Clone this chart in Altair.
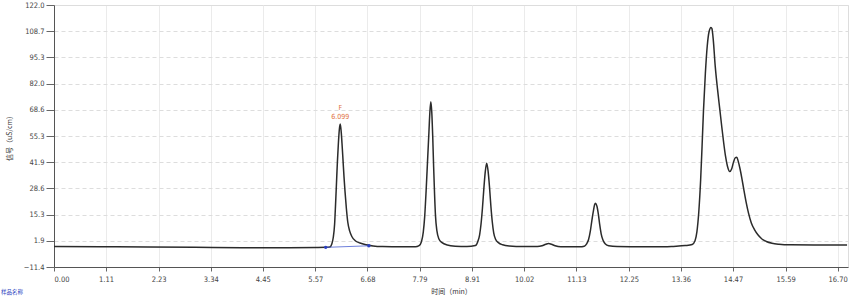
import altair as alt
import pandas as pd

# trace: time (min), signal (uS/cm)
times = [0.00, 1.00, 2.00, 3.00, 4.00, 5.00, 5.60, 5.79,
         5.88, 5.92, 5.95, 5.98, 6.00, 6.02, 6.04, 6.06, 6.08, 6.10, 6.12, 6.14, 6.16, 6.18,
         6.20, 6.23, 6.26, 6.30, 6.35, 6.42, 6.52, 6.65, 6.80, 7.00, 7.40,
         7.70, 7.78, 7.83, 7.87, 7.90, 7.93, 7.96, 7.99, 8.01, 8.03, 8.05, 8.07, 8.09, 8.11,
         8.13, 8.16, 8.20, 8.27, 8.38, 8.55, 8.80,
         8.98, 9.03, 9.07, 9.10, 9.13, 9.16, 9.19, 9.22, 9.25, 9.28, 9.31, 9.34, 9.37, 9.41,
         9.47, 9.56, 9.70, 10.00,
         10.30, 10.40, 10.48, 10.54, 10.60, 10.68, 10.80,
         11.20, 11.30, 11.35, 11.39, 11.43, 11.46, 11.49, 11.52, 11.54, 11.57, 11.60, 11.63,
         11.66, 11.70, 11.75, 11.82, 12.00, 12.60, 13.00,
         13.20, 13.45, 13.60, 13.66, 13.70, 13.74, 13.78, 13.81, 13.84, 13.88, 13.92, 13.96,
         14.00, 14.02, 14.05, 14.09, 14.14, 14.19, 14.23, 14.27, 14.31, 14.35, 14.40, 14.44,
         14.48, 14.52, 14.55, 14.58, 14.62, 14.66, 14.70, 14.75, 14.80, 14.86, 14.93, 15.00,
         15.08, 15.18, 15.30, 15.45, 15.70, 16.20, 16.90]
signal = [-1.0, -1.1, -1.2, -1.4, -1.6, -1.6, -1.5, -1.4,
          -1.2, 0.3, 3.5, 10.5, 20.5, 31.5, 42.5, 51.5, 58.5, 61.4, 57.5, 50.5, 42.5, 34.5,
          27.5, 18.5, 11.5, 7.0, 4.0, 2.0, 0.8, -0.1, -0.7, -1.0, -1.1,
          -1.1, -0.5, 1.5, 6.5, 14.5, 27.5, 42.5, 57.5, 67.5, 72.8, 67.5, 55.5, 39.5, 25.5,
          14.5, 7.0, 3.0, 1.0, -0.2, -0.8, -1.0,
          -0.5, 1.5, 5.0, 10.5, 18.5, 28.5, 37.0, 41.4, 37.5, 29.5, 19.5, 11.5, 6.0, 2.7,
          1.0, -0.1, -0.7, -1.0,
          -1.0, -0.6, 0.2, 0.6, 0.2, -0.6, -1.1,
          -1.1, -0.8, 0.4, 2.5, 7.0, 12.0, 16.5, 20.3, 21.0, 19.5, 15.5, 10.0,
          5.5, 2.2, 0.3, -0.6, -1.0, -1.1, -1.1,
          -0.9, -0.5, 0.1, 2.0, 6.5, 16.5, 33.0, 50.0, 68.0, 87.0, 101.0, 108.5,
          110.6, 110.0, 104.0, 91.0, 79.0, 68.5, 60.0, 52.0, 45.0, 40.0, 37.2, 38.5,
          42.0, 44.3, 44.5, 42.5, 38.5, 33.5, 28.0, 21.5, 16.0, 11.0, 7.5, 5.0,
          3.0, 1.6, 0.7, 0.2, -0.1, -0.2, -0.2]

# integration baseline markers for peak F
base_t = [5.79, 6.71]
base_v = [-1.4, -0.6]

peak_t = [6.099]
peak_v = [61.4]
peak_name = ["F"]
peak_rt = ["6.099"]

x_ticks = [0.00, 1.11, 2.23, 3.34, 4.45, 5.57, 6.68, 7.79, 8.91, 10.02, 11.13,
           12.25, 13.36, 14.47, 15.59, 16.70]
y_ticks = [122.0, 108.7, 95.3, 82.0, 68.6, 55.3, 41.9, 28.6, 15.3, 1.9, -11.4]

trace = pd.DataFrame({"t": times, "v": signal})
base = pd.DataFrame({"t": base_t, "v": base_v})
peaks = pd.DataFrame({"t": peak_t, "v": peak_v, "name": peak_name, "rt": peak_rt})

FONT = "'Liberation Sans Narrow', 'DejaVu Sans Condensed', sans-serif"
CJK = "Noto Sans CJK SC"

xs = alt.Scale(domain=[0, 16.92], nice=False, zero=False)
ys = alt.Scale(domain=[-11.4, 122.0], nice=False, zero=False)

x_axis = alt.Axis(values=x_ticks, tickCount=len(x_ticks) + 2, format=".2f", title="时间（min）",
                  labelOverlap=False,
                  grid=True, gridColor="#ebebeb", gridWidth=1,
                  tickSize=4, tickColor="#666", domainColor="#555",
                  labelFont=FONT, labelFontSize=7.5, labelColor="#444", labelPadding=4,
                  titleFont=CJK, titleFontSize=7, titleFontWeight="normal",
                  titleColor="#333", titlePadding=5)
y_axis = alt.Axis(values=y_ticks, tickCount=len(y_ticks) + 2, format=".1f", title="信号（uS/cm）",
                  labelOverlap=False,
                  grid=True, gridColor="#dddddd", gridDash=[4, 3], gridWidth=1,
                  tickSize=8, tickColor="#666", domainColor="#555",
                  labelFont=FONT, labelFontSize=7.5, labelColor="#444", labelPadding=2,
                  titleFont=CJK, titleFontSize=7, titleFontWeight="normal",
                  titleColor="#333", titleX=-42, titleY=131)

line = alt.Chart(trace).mark_line(color="#2b2b2b", strokeWidth=1.5, interpolate="monotone").encode(
    x=alt.X("t:Q", scale=xs, axis=x_axis),
    y=alt.Y("v:Q", scale=ys, axis=y_axis),
)

bline = alt.Chart(base).mark_line(color="#4a5fd0", strokeWidth=0.8).encode(
    x=alt.X("t:Q", scale=xs), y=alt.Y("v:Q", scale=ys))
bpts = alt.Chart(base).mark_point(filled=True, color="#2a3fc0", size=12, opacity=1).encode(
    x=alt.X("t:Q", scale=xs), y=alt.Y("v:Q", scale=ys))

lbl1 = alt.Chart(peaks).mark_text(color="#e0703c", fontSize=7, font=FONT, dy=-16).encode(
    x=alt.X("t:Q", scale=xs), y=alt.Y("v:Q", scale=ys), text="name:N")
lbl2 = alt.Chart(peaks).mark_text(color="#e0703c", fontSize=7, font=FONT, dy=-7).encode(
    x=alt.X("t:Q", scale=xs), y=alt.Y("v:Q", scale=ys), text="rt:N")

corner = alt.Chart(pd.DataFrame({"s": ["样品名称"]})).mark_text(
    color="#2a3fc0", fontSize=5.5, font=CJK, align="left", baseline="middle"
).encode(x=alt.value(-53), y=alt.value(25 + 262), text="s:N")

chart = (line + bline + bpts + lbl1 + lbl2 + corner).properties(
    width=794, height=262,
    autosize=alt.AutoSizeParams(type="none"),
    padding={"left": 54, "top": 5, "right": 4, "bottom": 34},
).configure_view(stroke=None).configure(background="white")

chart.save("out.html", embed_options={"renderer": "svg", "actions": False})
